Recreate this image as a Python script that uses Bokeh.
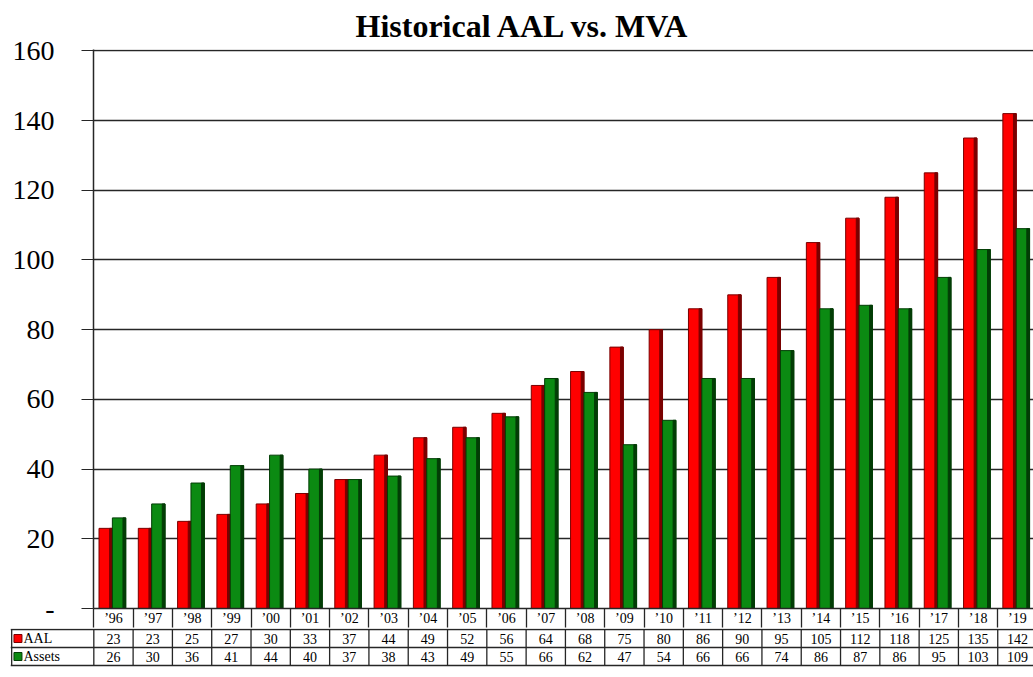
import numpy as np
from bokeh.plotting import figure
from bokeh.models import Range1d, FixedTicker, ColumnDataSource
from bokeh.transform import dodge
from bokeh.core.properties import value
from bokeh.embed import file_html
from bokeh.resources import INLINE

# ---- data ----
years = ["’96", "’97", "’98", "’99", "’00", "’01", "’02", "’03", "’04", "’05", "’06", "’07",
         "’08", "’09", "’10", "’11", "’12", "’13", "’14", "’15", "’16", "’17", "’18", "’19"]
aal = [23, 23, 25, 27, 30, 33, 37, 44, 49, 52, 56, 64, 68, 75, 80, 86, 90, 95, 105, 112, 118, 125, 135, 142]
assets = [26, 30, 36, 41, 44, 40, 37, 38, 43, 49, 55, 66, 62, 47, 54, 66, 66, 74, 86, 87, 86, 95, 103, 109]
series_names = ["AAL", "Assets"]
y_ticks = [0, 20, 40, 60, 80, 100, 120, 140, 160]

SERIF = "Liberation Serif"
RED, RED_DARK = "#ff0000", "#7a0000"
GREEN, GREEN_DARK = "#0b8a12", "#033d06"
LINE = "#262626"

n = len(years)
idx = np.arange(n)
centers = [float(i) for i in idx]
bounds = [i - 0.5 for i in range(n + 1)]
src = ColumnDataSource(dict(x=idx, aal=aal, assets=assets,
                            aal_s=[str(v) for v in aal], assets_s=[str(v) for v in assets]))

# ---- chart (with the year header row as its x axis) ----
pA = figure(width=1033, height=628, x_range=Range1d(-0.51, 23.41), y_range=Range1d(0, 160.4),
            output_backend="svg", toolbar_location=None,
            min_border_left=93, min_border_right=0, min_border_bottom=19, min_border_top=48)
pA.title.text = "Historical AAL vs. MVA"
pA.title.text_font = SERIF
pA.title.text_font_size = "32px"
pA.title.text_font_style = "bold"
pA.title.text_color = "black"
pA.title.align = "left"
pA.title.offset = 262
pA.title.standoff = 11
pA.outline_line_color = None
pA.xgrid.grid_line_color = None
pA.ygrid.ticker = FixedTicker(ticks=y_ticks)
pA.ygrid.grid_line_color = LINE
pA.ygrid.grid_line_width = 1.5

pA.yaxis.ticker = FixedTicker(ticks=y_ticks)
pA.yaxis.major_label_overrides = {0: "-"}
pA.yaxis.major_label_text_font = SERIF
pA.yaxis.major_label_text_font_size = "28px"
pA.yaxis.major_label_text_color = "black"
pA.yaxis.major_label_standoff = 27
pA.yaxis.major_tick_out = 12
pA.yaxis.major_tick_in = 0
pA.yaxis.minor_tick_line_color = None
pA.yaxis.axis_line_color = LINE
pA.yaxis.axis_line_width = 1.5
pA.yaxis.major_tick_line_color = LINE

pA.xaxis.ticker = FixedTicker(ticks=centers, minor_ticks=bounds)
pA.xaxis.major_label_overrides = {c: y for c, y in zip(centers, years)}
pA.xaxis.major_label_text_font = SERIF
pA.xaxis.major_label_text_font_size = "14px"
pA.xaxis.major_label_text_color = "black"
pA.xaxis.major_label_standoff = -17
pA.xaxis.major_tick_out = 0
pA.xaxis.major_tick_in = 0
pA.xaxis.minor_tick_out = 19
pA.xaxis.minor_tick_in = 0
pA.xaxis.minor_tick_line_color = LINE
pA.xaxis.minor_tick_line_width = 1.3
pA.xaxis.axis_line_color = LINE
pA.xaxis.axis_line_width = 1.5

w = 0.34
side = 0.07
off_r, off_g = -0.2, 0.14
for col, off, c, cd in [("aal", off_r, RED, RED_DARK), ("assets", off_g, GREEN, GREEN_DARK)]:
    pA.vbar(x=dodge("x", off, range=pA.x_range), width=w, top=col, bottom=0, source=src,
            fill_color=c, line_color=cd, line_width=1)
    pA.vbar(x=dodge("x", off + w / 2 - side / 2, range=pA.x_range), width=side, top=col, bottom=0,
            source=src, fill_color=cd, line_color=cd, line_width=1)

# ---- data table rows ----
xL = -2.62
pB = figure(width=1033, height=49, x_range=Range1d(xL, 23.41), y_range=Range1d(3.667, 0.944),
            output_backend="svg", toolbar_location=None,
            min_border_left=10, min_border_right=0, min_border_bottom=0, min_border_top=0)
pB.axis.visible = False
pB.grid.grid_line_color = None
pB.outline_line_color = None

pB.segment(x0=bounds, y0=[1] * len(bounds), x1=bounds, y1=[3] * len(bounds),
           line_color=LINE, line_width=1.3)
pB.segment(x0=[xL + 0.03], y0=[1], x1=[xL + 0.03], y1=[3], line_color=LINE, line_width=1.3)
pB.segment(x0=[xL, xL, xL], y0=[1, 2, 3], x1=[n] * 3, y1=[1, 2, 3],
           line_color=LINE, line_width=1.3)

tstyle = dict(text_font=value(SERIF), text_font_size="14px", text_color="black",
              text_baseline="middle")
pB.text(x="x", y=1.5, text="aal_s", source=src, text_align="center", **tstyle)
pB.text(x="x", y=2.5, text="assets_s", source=src, text_align="center", **tstyle)
pB.scatter(x=[xL + 0.19] * 2, y=[1.5, 2.5], marker="square", size=8,
           fill_color=[RED, GREEN], line_color=[RED_DARK, GREEN_DARK])
pB.text(x=[xL + 0.33] * 2, y=[1.5, 2.5], text=series_names, text_align="left", **tstyle)

open("out.html", "w").write(file_html([pA, pB], INLINE))
